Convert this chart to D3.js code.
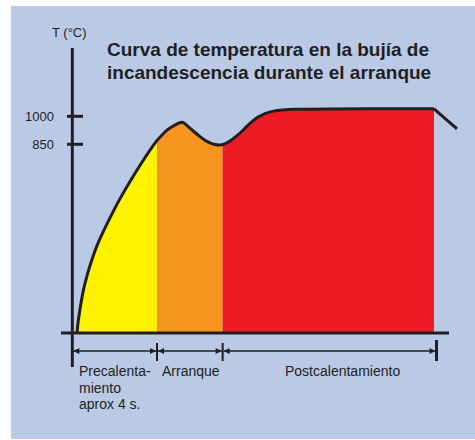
<!DOCTYPE html>
<html>
<head>
<meta charset="utf-8">
<script src="https://cdn.jsdelivr.net/npm/d3@7"></script>
<style>
  html, body { margin: 0; padding: 0; background: #fff; }
  svg { display: block; font-family: Arial, "Liberation Sans", sans-serif; }
</style>
</head>
<body>
<svg id="chart" width="475" height="440"></svg>
<script>
// Curva (tiempo en s, temperatura en °C) - esquemática
const curveTime = [0.222, 0.269, 0.364, 0.505, 0.694, 0.93, 1.166, 1.497, 1.922, 2.347, 2.819, 3.292, 3.669, 4.0,
  4.236, 4.472, 4.708, 4.944, 5.086, 5.204, 5.322, 5.558, 5.794, 6.03, 6.266, 6.502, 6.738, 6.974,
  7.257, 7.528, 7.731, 8.0, 8.203, 8.472, 8.77, 9.1, 9.431, 9.903, 10.517, 11.462, 17.082];
const curveTemp = [0, 50, 108, 189, 261, 333, 396, 464, 547, 622, 698, 770, 824, 873,
  900, 927, 945, 960, 966, 970, 961, 936, 913, 891, 871, 857, 848, 845,
  854, 873, 893, 917, 943, 971, 997, 1016, 1027, 1034, 1038, 1040, 1040];
// tramo final (enfriamiento)
const tailTime = [17.082, 18.168];
const tailTemp = [1040, 932];

// Fases
const phaseNames = ['Precalenta-\nmiento\naprox 4 s.', 'Arranque', 'Postcalentamiento'];
const phaseStart = [0, 4, 7.1];
const phaseEnd = [4, 7.1, 17.2];
const phaseFillEnd = [4, 7.1, 17.082];
const phaseColors = ['#fff200', '#f7941d', '#ed1c24'];

// Eje Y
const yTicks = [1000, 850];
const yLabel = 'T (°C)';
const title = ['Curva de temperatura en la bujía de', 'incandescencia durante el arranque'];

const ink = '#231f20';
const svg = d3.select('#chart');

// Fondo
svg.append('rect')
  .attr('x', 11).attr('y', 6)
  .attr('width', 464).attr('height', 433)
  .attr('fill', '#b9c9e6');

// Escalas (el eje Y es esquemático: tramos lineales)
const x = d3.scaleLinear().domain([0, 4]).range([72.3, 157]);
const y = d3.scaleLinear().domain([0, 850, 1000]).range([333, 144.3, 116.3]);

const pts = curveTime.map((t, i) => [t, curveTemp[i]]);
const tail = tailTime.map((t, i) => [t, tailTemp[i]]);

const area = d3.area()
  .x(d => x(d[0]))
  .y0(y(0))
  .y1(d => y(d[1]))
  .curve(d3.curveBasis);

const line = d3.line()
  .x(d => x(d[0]))
  .y(d => y(d[1]))
  .curve(d3.curveBasis);

// Áreas por fase
const defs = svg.append('defs');
phaseNames.forEach((p, i) => {
  defs.append('clipPath')
    .attr('id', 'clip' + i)
    .append('rect')
    .attr('x', x(phaseStart[i]))
    .attr('y', 0)
    .attr('width', x(phaseFillEnd[i]) - x(phaseStart[i]))
    .attr('height', y(0));
});

svg.append('g')
  .selectAll('path.phase')
  .data(phaseNames)
  .join('path')
  .attr('class', 'phase')
  .attr('clip-path', (d, i) => `url(#clip${i})`)
  .attr('d', area(pts))
  .attr('fill', (d, i) => phaseColors[i]);

// Curva
svg.append('path')
  .attr('d', line(pts))
  .attr('fill', 'none')
  .attr('stroke', ink)
  .attr('stroke-width', 3)
  .attr('stroke-linejoin', 'round');

svg.append('path')
  .attr('d', d3.line().x(d => x(d[0])).y(d => y(d[1]))(tail))
  .attr('fill', 'none')
  .attr('stroke', ink)
  .attr('stroke-width', 3)
  .attr('stroke-linejoin', 'round');

// Ejes
svg.append('line')
  .attr('x1', x(0)).attr('x2', x(0))
  .attr('y1', 48).attr('y2', 367)
  .attr('stroke', ink).attr('stroke-width', 3);

svg.append('line')
  .attr('x1', 61).attr('x2', 449)
  .attr('y1', y(0)).attr('y2', y(0))
  .attr('stroke', ink).attr('stroke-width', 3);

const tick = svg.append('g')
  .selectAll('g')
  .data(yTicks)
  .join('g')
  .attr('transform', d => `translate(0,${y(d)})`);

tick.append('line')
  .attr('x1', 67).attr('x2', 83)
  .attr('stroke', ink).attr('stroke-width', 3);

tick.append('text')
  .attr('x', 54)
  .attr('dy', '0.36em')
  .attr('text-anchor', 'end')
  .attr('font-size', 13)
  .attr('fill', ink)
  .text(d => d);

svg.append('text')
  .attr('x', 52).attr('y', 37)
  .attr('font-size', 13)
  .attr('fill', ink)
  .text(yLabel);

// Título
svg.append('text')
  .attr('x', 107).attr('y', 55.5)
  .attr('font-size', 19)
  .attr('font-weight', 'bold')
  .attr('fill', ink)
  .selectAll('tspan')
  .data(title)
  .join('tspan')
  .attr('x', 107)
  .attr('dy', (d, i) => i ? 23 : 0)
  .text(d => d);

// Flechas de duración
const arrowY = 351;
const ah = 6, aw = 3;
const dims = svg.append('g');

phaseNames.forEach((p, i) => {
  const x0 = x(phaseStart[i]) + 1, x1 = x(phaseEnd[i]) - 1;
  dims.append('line')
    .attr('x1', x0).attr('x2', x1)
    .attr('y1', arrowY).attr('y2', arrowY)
    .attr('stroke', ink).attr('stroke-width', 1.5);
  dims.append('path')
    .attr('d', `M${x0},${arrowY} l${ah},${-aw} l0,${2 * aw} Z`)
    .attr('fill', ink);
  dims.append('path')
    .attr('d', `M${x1},${arrowY} l${-ah},${-aw} l0,${2 * aw} Z`)
    .attr('fill', ink);
});

// marcas verticales de los límites
dims.selectAll('line.mark')
  .data(phaseEnd)
  .join('line')
  .attr('class', 'mark')
  .attr('x1', d => x(d)).attr('x2', d => x(d))
  .attr('y1', (d, i) => i === phaseEnd.length - 1 ? 340 : 343)
  .attr('y2', 361)
  .attr('stroke', ink)
  .attr('stroke-width', (d, i) => i === phaseEnd.length - 1 ? 3 : 2);

// Etiquetas de fase
const labelX = [79, 162, 285];
svg.append('g')
  .selectAll('text')
  .data(phaseNames)
  .join('text')
  .attr('x', (d, i) => labelX[i])
  .attr('y', 376)
  .attr('font-size', 14)
  .attr('fill', ink)
  .selectAll('tspan')
  .data((d, i) => d.split('\n').map(s => ({ s, x: labelX[i] })))
  .join('tspan')
  .attr('x', d => d.x)
  .attr('dy', (d, i) => i ? 16.5 : 0)
  .text(d => d.s);
</script>
</body>
</html>
